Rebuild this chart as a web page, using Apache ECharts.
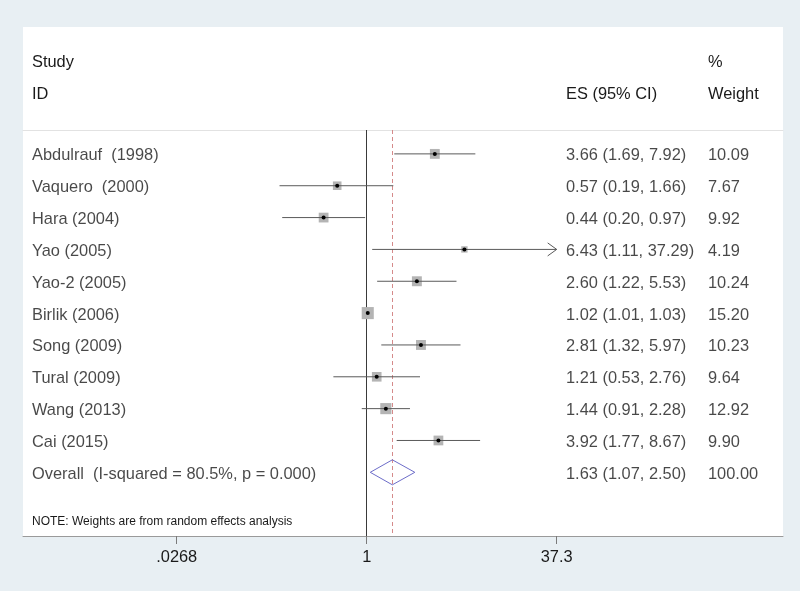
<!DOCTYPE html>
<html><head><meta charset="utf-8">
<script src="https://cdn.jsdelivr.net/npm/echarts@6/dist/echarts.min.js"></script>
<style>html,body{margin:0;padding:0;background:#e8eff3}#c{width:800px;height:591px}</style>
</head><body><div id="c"></div>
<script>
// ---- data ----
const studies = ['Abdulrauf  (1998)', 'Vaquero  (2000)', 'Hara (2004)', 'Yao (2005)', 'Yao-2 (2005)',
  'Birlik (2006)', 'Song (2009)', 'Tural (2009)', 'Wang (2013)', 'Cai (2015)'];
const esValues = [3.66, 0.57, 0.44, 6.43, 2.60, 1.02, 2.81, 1.21, 1.44, 3.92];
const ciLower = [1.69, 0.19, 0.20, 1.11, 1.22, 1.01, 1.32, 0.53, 0.91, 1.77];
const ciUpper = [7.92, 1.66, 0.97, 37.29, 5.53, 1.03, 5.97, 2.76, 2.28, 8.67];
const weights = [10.09, 7.67, 9.92, 4.19, 10.24, 15.20, 10.23, 9.64, 12.92, 9.90];
const overallLabel = 'Overall  (I-squared = 80.5%, p = 0.000)';
const overallES = 1.63, overallLower = 1.07, overallUpper = 2.50, overallWeight = 100.00;
const tickValues = [0.0268, 1, 37.3];
const tickLabels = ['.0268', '1', '37.3'];
const noteText = 'NOTE: Weights are from random effects analysis';

// ---- chart ----
const FONT = 'Liberation Sans, Arial, sans-serif';
const FS = 16.4;
const TXT = '#1a1a1a';
const xMin = tickValues[0], xMax = tickValues[2];
const overallRow = studies.length;
const fmt = v => v.toFixed(2);

const rows = studies.map((s, i) => [i, esValues[i], ciLower[i], ciUpper[i], weights[i]]);

const textData = [];
studies.forEach((s, i) => {
  textData.push({value: [9, i], t: s});
  textData.push({value: [543, i], t: fmt(esValues[i]) + ' (' + fmt(ciLower[i]) + ', ' + fmt(ciUpper[i]) + ')'});
  textData.push({value: [685, i], t: fmt(weights[i])});
});
textData.push({value: [9, overallRow], t: overallLabel});
textData.push({value: [543, overallRow], t: fmt(overallES) + ' (' + fmt(overallLower) + ', ' + fmt(overallUpper) + ')'});
textData.push({value: [685, overallRow], t: fmt(overallWeight)});

function renderStudy(params, api) {
  const row = api.value(0), es = api.value(1), lo = api.value(2), hi = api.value(3), w = api.value(4);
  const pLo = api.coord([Math.max(lo, xMin), row]);
  const pHi = api.coord([Math.min(hi, xMax), row]);
  const pEs = api.coord([es, row]);
  const side = 3.1 * Math.sqrt(w);
  const children = [
    {type: 'rect', shape: {x: pEs[0] - side / 2, y: pEs[1] - side / 2, width: side, height: side},
      style: {fill: '#b4b4b4'}},
    {type: 'line', shape: {x1: pLo[0], y1: pLo[1], x2: pHi[0], y2: pHi[1]},
      style: {stroke: '#5a5a5a', lineWidth: 1}},
    {type: 'circle', shape: {cx: pEs[0], cy: pEs[1], r: 2}, style: {fill: '#000'}}
  ];
  if (hi >= xMax * 0.999) {
    children.push({type: 'polyline', shape: {points: [[pHi[0] - 9, pHi[1] - 6.5], [pHi[0], pHi[1]], [pHi[0] - 9, pHi[1] + 6.5]]},
      style: {stroke: '#5a5a5a', lineWidth: 1, fill: null}});
  }
  return {type: 'group', children};
}

function renderOverall(params, api) {
  const row = api.value(0);
  const pL = api.coord([api.value(2), row]);
  const pE = api.coord([api.value(1), row]);
  const pH = api.coord([api.value(3), row]);
  const h = 12.5;
  return {type: 'polygon', shape: {points: [[pL[0], pL[1]], [pE[0], pE[1] - h], [pH[0], pH[1]], [pE[0], pE[1] + h]]},
    style: {stroke: '#6d6dc9', lineWidth: 1, fill: 'rgba(0,0,0,0)'}};
}

const hdr = (text, x, y, size) => ({type: 'text', x, y,
  style: {text, font: (size || FS) + 'px ' + FONT, fill: TXT, verticalAlign: 'middle'}});

const chart = echarts.init(document.getElementById('c'), null, {renderer: 'canvas'});
chart.setOption({
  backgroundColor: '#e8eff3',
  animation: false,
  textStyle: {fontFamily: FONT},
  graphic: [
    {type: 'rect', shape: {x: 23, y: 27, width: 760, height: 509}, style: {fill: '#ffffff'}, z: -10},
    hdr('Study', 32, 62), hdr('ID', 32, 94), hdr('ES (95% CI)', 566, 94),
    hdr('%', 708, 62), hdr('Weight', 708, 94),
    hdr(noteText, 32, 522, 12)
  ],
  grid: [
    {left: 176.7, right: 243.3, top: 130, bottom: 55},
    {left: 23, right: 17, top: 130, bottom: 55}
  ],
  xAxis: [
    {type: 'log', logBase: xMax, min: xMin, max: xMax, gridIndex: 0, position: 'bottom',
      axisLine: {show: false, onZero: false}, splitLine: {show: false},
      axisTick: {show: true, length: 8, lineStyle: {color: '#7a7a7a'}},
      axisLabel: {margin: 13, fontSize: FS, color: TXT, fontFamily: FONT,
        formatter: v => {
          let best = 0;
          tickValues.forEach((t, k) => { if (Math.abs(Math.log(v / t)) < Math.abs(Math.log(v / tickValues[best]))) best = k; });
          return tickLabels[best];
        }}},
    {type: 'value', min: 0, max: 760, gridIndex: 1, position: 'bottom',
      axisLine: {show: true, onZero: false, lineStyle: {color: '#9a9a9a', width: 1}},
      axisTick: {show: false}, axisLabel: {show: false}, splitLine: {show: false}},
    {type: 'value', min: 0, max: 760, gridIndex: 1, position: 'top',
      axisLine: {show: true, onZero: false, lineStyle: {color: '#e2e2e2', width: 1}},
      axisTick: {show: false}, axisLabel: {show: false}, splitLine: {show: false}}
  ],
  yAxis: [
    {type: 'value', min: -0.75, max: 12, inverse: true, gridIndex: 0, show: false},
    {type: 'value', min: -0.75, max: 12, inverse: true, gridIndex: 1, show: false}
  ],
  series: [
    {type: 'custom', xAxisIndex: 0, yAxisIndex: 0, renderItem: renderStudy, clip: false,
      encode: {x: 1, y: 0}, data: rows, z: 5,
      markLine: {silent: true, symbol: 'none', label: {show: false},
        data: [
          {xAxis: 1, lineStyle: {color: '#3a3a3a', width: 1, type: 'solid'}},
          {xAxis: overallES, lineStyle: {color: '#d58a8a', width: 1, type: [4, 3]}}
        ]}},
    {type: 'custom', xAxisIndex: 0, yAxisIndex: 0, renderItem: renderOverall, clip: false,
      encode: {x: 1, y: 0}, data: [[overallRow, overallES, overallLower, overallUpper]], z: 6},
    {type: 'scatter', xAxisIndex: 1, yAxisIndex: 1, symbolSize: 0, clip: false, silent: true,
      data: textData,
      label: {show: true, position: 'right', distance: 0, offset: [0, 2], fontSize: FS, color: TXT, fontFamily: FONT,
        formatter: p => p.data.t}}
  ]
});
</script></body></html>
